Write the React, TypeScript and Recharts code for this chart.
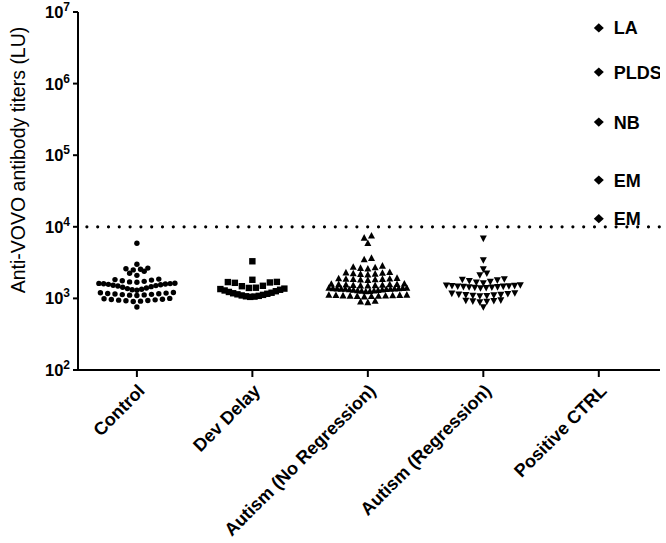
import { ScatterChart, Scatter, XAxis, YAxis, ReferenceLine } from "recharts";

// group names along the x axis
const categories = [
  "Control",
  "Dev Delay",
  "Autism (No Regression)",
  "Autism (Regression)",
  "Positive CTRL",
];

// titers (LU), one inner array per horizontal row of the dot plot
const controlRows = [
  [760],
  [905, 915, 925, 935, 945, 955, 965, 975, 990, 1000],
  [1100, 1110, 1120, 1130, 1140, 1150, 1160, 1170, 1185, 1200, 1210],
  [1300, 1320, 1340, 1370, 1400, 1430, 1460, 1490, 1510, 1530, 1550, 1570, 1590, 1600, 1610, 1620, 1630],
  [1680, 1700, 1730, 1760, 1800, 1830, 1860],
  [2100, 2250, 2400],
  [2500, 2550, 2600, 2650],
  [3000],
  [5900],
];

const devDelayRows = [
  [1050, 1060, 1070, 1085, 1100, 1120, 1140, 1160, 1180, 1200, 1230, 1260, 1290, 1320, 1350, 1370],
  [1400, 1410, 1480, 1500, 1650, 1670, 1690, 1700],
  [1820],
  [3300],
];

const autismNoRegRows = [
  [880, 900, 920],
  [1060, 1070, 1075, 1080, 1085, 1090, 1095, 1100, 1105, 1110, 1115, 1120],
  [1250, 1260, 1270, 1280, 1290, 1300, 1310, 1320, 1330, 1340, 1350, 1355, 1360, 1365, 1370, 1375, 1380, 1390, 1395, 1400],
  [1500, 1510, 1520, 1530, 1540, 1550, 1560, 1570, 1580, 1590, 1600],
  [1800, 1820, 1840, 1850, 1860, 1870, 1880, 1900, 1920],
  [2150, 2180, 2200, 2230, 2260, 2290, 2320],
  [2600, 2650, 2700, 2750, 2850],
  [3500, 3650],
  [5900],
  [7000, 7500],
];

const autismRegRows = [
  [760],
  [890, 905, 915, 925, 935, 945],
  [1080, 1090, 1100, 1110, 1120, 1130, 1140, 1160, 1175, 1190],
  [1400, 1410, 1420, 1430, 1440, 1450, 1460, 1470, 1480, 1490, 1500, 1510, 1525, 1540],
  [1640, 1680, 1720, 1760, 1800, 1840, 1870],
  [2120, 2240],
  [2560],
  [3440],
  [6900],
];

const positiveNames = ["LA", "PLDS", "NB", "EM", "EM"];
const positiveValues = [6000000, 1450000, 290000, 45000, 13000];

const yTicks = [1e2, 1e3, 1e4, 1e5, 1e6, 1e7];
const cutoff = 10000;

const W = 666;
const H = 543;
const M = { top: 12, right: 6, left: 0, bottom: 0 };
const Y_AXIS_W = 78;
const X_AXIS_H = 173;
const X_MIN = 0.49;
const X_MAX = 5.53;
const PLOT_W = W - M.left - M.right - Y_AXIS_W;
const PX_PER_UNIT = PLOT_W / (X_MAX - X_MIN);
const FONT = "'Liberation Sans', Arial, sans-serif";

// Prism-style column scatter: each row spread sideways, lowest values in the middle
function spread(rows: number[][], cat: number, gapPx: number, maxWidth: number) {
  const out: { x: number; y: number }[] = [];
  rows.forEach((row) => {
    const vals = [...row].sort((a, b) => a - b);
    const n = vals.length;
    const gap = n > 1 ? Math.min(gapPx, maxWidth / (n - 1)) : 0;
    const mid = (n - 1) / 2;
    const slots = Array.from({ length: n }, (_, j) => j).sort(
      (a, b) => Math.abs(a - mid) - Math.abs(b - mid) || a - b
    );
    slots.forEach((slot, k) => {
      out.push({ x: cat + ((slot - mid) * gap) / PX_PER_UNIT, y: vals[k] });
    });
  });
  return out;
}

const controlData = spread(controlRows, 1, 7.3, 76);
const devDelayData = spread(devDelayRows, 2, 7, 64);
const autismNoRegData = spread(autismNoRegRows, 3, 7.3, 78);
const autismRegData = spread(autismRegRows, 4, 7, 74);
const positiveData = positiveValues.map((v, i) => ({ x: 5, y: v, name: positiveNames[i] }));

const circle = (p: any) => <circle cx={p.cx} cy={p.cy} r={2.7} fill="#000" />;
const square = (p: any) => <rect x={p.cx - 3.2} y={p.cy - 3.2} width={6.4} height={6.4} fill="#000" />;
const triUp = (p: any) => (
  <path d={`M${p.cx},${p.cy - 3.8}L${p.cx + 3.5},${p.cy + 2.8}L${p.cx - 3.5},${p.cy + 2.8}Z`} fill="#000" />
);
const triDown = (p: any) => (
  <path d={`M${p.cx},${p.cy + 3.8}L${p.cx + 3.5},${p.cy - 2.8}L${p.cx - 3.5},${p.cy - 2.8}Z`} fill="#000" />
);
const diamond = (p: any) => (
  <g>
    <path d={`M${p.cx},${p.cy - 4.6}L${p.cx + 5},${p.cy}L${p.cx},${p.cy + 4.6}L${p.cx - 5},${p.cy}Z`} fill="#000" />
    <text
      x={p.cx + 15}
      y={p.cy}
      dy="0.36em"
      fontFamily={FONT}
      fontWeight="bold"
      fontSize={18}
      fill="#000"
    >
      {p.payload.name}
    </text>
  </g>
);

function YTick({ x, y, payload }: any) {
  const exp = Math.round(Math.log10(payload.value));
  return (
    <text x={x} y={y} dy="0.36em" textAnchor="end" fontFamily={FONT} fontWeight="bold" fontSize={16.5} fill="#000">
      10
      <tspan dy={-7} fontSize={12}>
        {exp}
      </tspan>
    </text>
  );
}

function XTick({ x, y, payload }: any) {
  return (
    <g transform={`translate(${x + 9},${y + 13})`}>
      <text x={0} y={0} textAnchor="end" transform="rotate(-45)" fontFamily={FONT} fontWeight="bold" fontSize={18} fill="#000">
        {categories[payload.value - 1]}
      </text>
    </g>
  );
}

function YTitle() {
  return (
    <text
      x={18}
      y={160}
      transform="rotate(-90, 18, 160)"
      textAnchor="middle"
      dominantBaseline="central"
      fontFamily={FONT}
      fontSize={19.5}
      fill="#000"
    >
      Anti-VOVO antibody titers (LU)
    </text>
  );
}

export default function App() {
  return (
    <div style={{ position: "absolute", left: 0, top: 0, width: W, height: H, background: "#fff" }}>
      <ScatterChart width={W} height={H} margin={M}>
        <XAxis
          type="number"
          dataKey="x"
          domain={[X_MIN, X_MAX]}
          ticks={[1, 2, 3, 4, 5]}
          allowDataOverflow
          height={X_AXIS_H}
          tick={<XTick />}
          tickSize={7}
          tickMargin={2}
          axisLine={{ stroke: "#000", strokeWidth: 2 }}
          tickLine={{ stroke: "#000", strokeWidth: 2 }}
          interval={0}
        />
        <YAxis
          type="number"
          dataKey="y"
          scale="log"
          domain={[100, 10000000]}
          ticks={yTicks}
          allowDataOverflow
          width={Y_AXIS_W}
          tick={<YTick />}
          tickSize={5}
          tickMargin={3}
          axisLine={{ stroke: "#000", strokeWidth: 2 }}
          tickLine={{ stroke: "#000", strokeWidth: 2 }}
          interval={0}
          label={{ content: () => <YTitle /> }}
        />
        <ReferenceLine
          segment={[
            { x: 0.567, y: cutoff },
            { x: 5.58, y: cutoff },
          ]}
          ifOverflow="visible"
          stroke="#000"
          strokeWidth={3.2}
          strokeDasharray="0 10.8"
          strokeLinecap="round"
        />
        <Scatter data={controlData} shape={circle} isAnimationActive={false} />
        <Scatter data={devDelayData} shape={square} isAnimationActive={false} />
        <Scatter data={autismNoRegData} shape={triUp} isAnimationActive={false} />
        <Scatter data={autismRegData} shape={triDown} isAnimationActive={false} />
        <Scatter data={positiveData} shape={diamond} isAnimationActive={false} />
      </ScatterChart>
    </div>
  );
}
